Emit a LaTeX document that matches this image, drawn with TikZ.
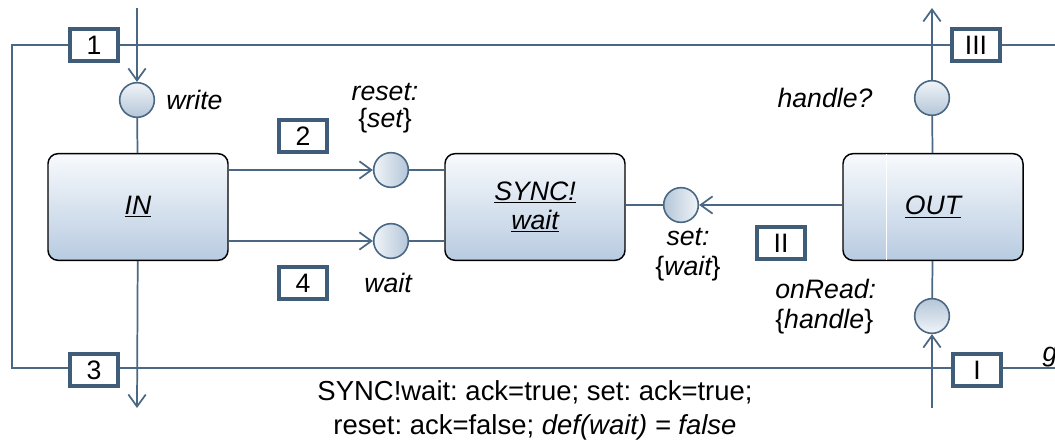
\documentclass[tikz,border=0pt]{standalone}
\usepackage{fontspec}
\setmainfont{Liberation Sans}
\usetikzlibrary{arrows.meta}
\definecolor{wireblue}{HTML}{4A6884}
\definecolor{boxedge}{HTML}{3F5D78}
\definecolor{partTop}{HTML}{F8FAFD}
\definecolor{partBot}{HTML}{B8CBE1}
\definecolor{portLite}{HTML}{F0F4F8}
\definecolor{portDark}{HTML}{B4C6D8}
\newcommand{\txt}{\fontsize{20pt}{22.5pt}\selectfont\frenchspacing}
\tikzstyle{part} = [rectangle, rounded corners=7.5pt, minimum width=135pt, minimum height=80pt, draw=black, line width=1.1pt, top color=partTop, bottom color=partBot, font=\txt\itshape, align=center]
\tikzstyle{port} = [circle, minimum size=26pt, inner sep=0pt, draw=wireblue, line width=1.2pt]
\tikzstyle{num} = [rectangle, minimum width=36pt, minimum height=24pt, inner sep=0pt, draw=boxedge, line width=3pt, fill=white, font=\txt]
\tikzstyle{wire} = [draw=wireblue, line width=1.3pt]
\tikzstyle{arrow} = [wire, -{Straight Barb[length=9pt,width=13pt,line width=1.3pt]}]
\tikzstyle{lbl} = [font=\txt\itshape, inner sep=0pt]

\begin{document}
\begin{tikzpicture}[x=0.75pt, y=-0.75pt]
\useasboundingbox (0,0) rectangle (1055,441);
% outer frame
\coordinate (tl) at (12,45);
\coordinate (bl) at (12,368);
\coordinate (tr) at (1060,45);
\coordinate (br) at (1060,368);
\draw [wire] (tr) -- (tl) -- (bl) -- (br);
\coordinate (inTop) at (137,8);
\coordinate (inBot) at (137,408);
\coordinate (outTop) at (932,8);
\coordinate (outBot) at (932,408);

% parts
\node (in) [part] at (138,207) {\underline{IN}};
\node (sync) [part] at (535,207) {\underline{SYNC!}\\[-1pt]\underline{wait}};
\node (out) [part] at (933,207) {\underline{OUT}};
\draw [white, line width=0.6pt] ([xshift=33pt,yshift=-1pt]out.north west) -- ([xshift=33pt,yshift=1pt]out.south west);

% ports
\node (pw) [port, top color=portLite, bottom color=portDark] at (137,100) {};
\node (preset) [port, left color=portLite, right color=portDark] at (391,170) {};
\node (pwait) [port, left color=portLite, right color=portDark] at (391,241) {};
\node (pset) [port, left color=portDark, right color=portLite] at (681,205) {};
\node (phandle) [port, top color=portLite, bottom color=portDark] at (932,98) {};
\node (pread) [port, top color=portDark, bottom color=portLite] at (932,316) {};

% port labels
\node [lbl, anchor=west] at (166,100) {write};
\node [lbl, align=center] at (385,108) {reset:\\[-2pt]\upshape\{\itshape set\upshape\}};
\node [lbl] at (388,283) {wait};
\node [lbl, align=center] at (688,255) {set:\\\upshape\{\itshape wait\upshape\}};
\node [lbl] at (825,98) {handle?};
\node [lbl, align=left, anchor=west] at (775,307) {onRead:\\\upshape\{\itshape handle\upshape\}};
\node [lbl] at (1050,357) {g};

% connectors
\draw [arrow] (inTop) -- (pw);
\draw [wire] (pw) -- (in);
\draw [arrow] (in) -- (inBot);
\draw [arrow] (in.east |- preset) -- (preset);
\draw [arrow] (in.east |- pwait) -- (pwait);
\draw [wire] (preset) -- (sync.west |- preset);
\draw [wire] (pwait) -- (sync.west |- pwait);
\draw [wire] (sync.east |- pset) -- (pset);
\draw [arrow] (out.west |- pset) -- (pset);
\draw [wire] (out) -- (phandle);
\draw [arrow] (phandle) -- (outTop);
\draw [wire] (out) -- (pread);
\draw [arrow] (outBot) -- (pread);

% numbered boxes
\node (n1) [num] at (94,45) {1};
\node (n2) [num] at (303,136) {2};
\node (n3) [num] at (94,370) {3};
\node (n4) [num] at (303,283) {4};
\node (r1) [num] at (977,370) {I};
\node (r2) [num] at (781,243) {II};
\node (r3) [num] at (976,45) {III};

% bottom note
\node (note) [align=center, font=\fontsize{20.6pt}{25.5pt}\selectfont\frenchspacing] at (535,410) {SYNC!wait: ack=true; set: ack=true;\\reset: ack=false; \textit{def(wait) = false}};
\end{tikzpicture}
\end{document}
